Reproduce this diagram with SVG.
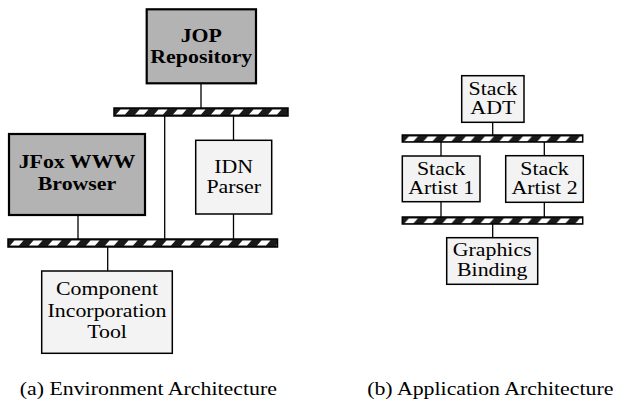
<svg xmlns="http://www.w3.org/2000/svg" width="626" height="403" viewBox="0 0 626 403">
<defs>
<pattern id="hatch" patternUnits="userSpaceOnUse" x="0" y="0" width="19" height="8">
<rect width="19" height="8" fill="#1a1a1a"/>
<polygon points="2,6.6 11,6.6 15.5,1.4 6.5,1.4" fill="#fff"/>
</pattern>
<style>
.bus{fill:url(#hatch);stroke:#000;stroke-width:1.5}
.dark{fill:#b3b3b3;stroke:#000;stroke-width:2.2}
.light{fill:#f3f3f3;stroke:#000;stroke-width:1.5}
.ln{stroke:#000;stroke-width:1.3;fill:none}
text{font-family:"Liberation Serif","Times New Roman",serif;font-size:19px;fill:#000;text-anchor:middle}
.b{font-weight:bold}
.s{font-size:18.5px}
</style>
</defs>
<rect width="626" height="403" fill="#fff"/>
<g id="connectors">
<line class="ln" x1="201" y1="83" x2="201" y2="108"/>
<line class="ln" x1="164.7" y1="116" x2="164.7" y2="239"/>
<line class="ln" x1="233.5" y1="116" x2="233.5" y2="140"/>
<line class="ln" x1="233.5" y1="214" x2="233.5" y2="239"/>
<line class="ln" x1="78" y1="215" x2="78" y2="239"/>
<line class="ln" x1="107.7" y1="247" x2="107.7" y2="271"/>
<line class="ln" x1="492.7" y1="122" x2="492.7" y2="135"/>
<line class="ln" x1="441" y1="142" x2="441" y2="156"/>
<line class="ln" x1="544.3" y1="142" x2="544.3" y2="156"/>
<line class="ln" x1="441" y1="202" x2="441" y2="217"/>
<line class="ln" x1="544.3" y1="202" x2="544.3" y2="217"/>
<line class="ln" x1="492.7" y1="224" x2="492.7" y2="238"/>
</g>
<g id="bus1" transform="translate(114,108)"><rect class="bus" width="174" height="8"/></g>
<g id="bus2" transform="translate(8,239)"><rect class="bus" width="269.5" height="8"/></g>
<g id="bus3" transform="translate(402.3,135)"><rect class="bus" width="180.4" height="7"/></g>
<g id="bus4" transform="translate(402.3,217)"><rect class="bus" width="180.4" height="7"/></g>
<g id="jop">
<rect class="dark" x="146.7" y="9.3" width="109.3" height="74"/>
<text class="b" transform="translate(201.3,41.7) scale(1.15,1)">JOP</text>
<text class="b" transform="translate(201.3,62.7) scale(1.15,1)">Repository</text>
</g>
<g id="jfox">
<rect class="dark" x="9" y="134" width="136" height="81"/>
<text class="b" transform="translate(77,168.3) scale(1.15,1)">JFox WWW</text>
<text class="b" transform="translate(77,190) scale(1.15,1)">Browser</text>
</g>
<g id="idn">
<rect class="light" x="195.7" y="140.3" width="76" height="73.7"/>
<text transform="translate(233.7,172.7) scale(1.15,1)">IDN</text>
<text transform="translate(233.7,192.7) scale(1.15,1)">Parser</text>
</g>
<g id="cit">
<rect class="light" x="41.7" y="271" width="130.6" height="82.3"/>
<text transform="translate(107,295) scale(1.15,1)">Component</text>
<text transform="translate(107,316.7) scale(1.15,1)">Incorporation</text>
<text transform="translate(107,338) scale(1.15,1)">Tool</text>
</g>
<g id="stackadt">
<rect class="light" x="461.7" y="75.7" width="62.3" height="46.6"/>
<text transform="translate(492.8,95) scale(1.15,1)">Stack</text>
<text transform="translate(492.8,114) scale(1.15,1)">ADT</text>
</g>
<g id="artist1">
<rect class="light" x="402.3" y="156" width="77.7" height="45.7"/>
<text transform="translate(441.2,175) scale(1.15,1)">Stack</text>
<text transform="translate(441.2,194) scale(1.15,1)">Artist 1</text>
</g>
<g id="artist2">
<rect class="light" x="505.7" y="155.7" width="77.6" height="46.6"/>
<text transform="translate(544.5,174.5) scale(1.15,1)">Stack</text>
<text transform="translate(544.5,193.5) scale(1.15,1)">Artist 2</text>
</g>
<g id="graphics">
<rect class="light" x="446.7" y="237.7" width="91" height="46.6"/>
<text class="s" transform="translate(492.2,256.3) scale(1.18,1)">Graphics</text>
<text class="s" transform="translate(492.2,275.5) scale(1.18,1)">Binding</text>
</g>
<g id="captions">
<text transform="translate(148.3,395) scale(1.15,1)">(a) Environment Architecture</text>
<text transform="translate(490.3,395) scale(1.15,1)">(b) Application Architecture</text>
</g>
</svg>
